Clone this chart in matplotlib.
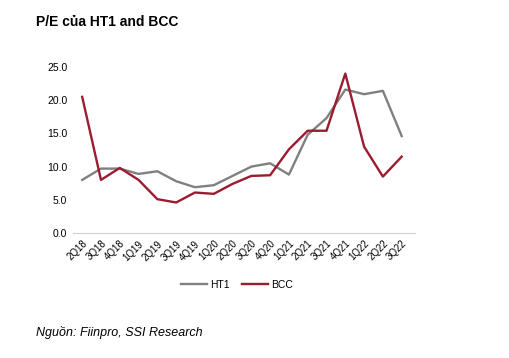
import matplotlib.pyplot as plt

quarters = ["2Q18", "3Q18", "4Q18", "1Q19", "2Q19", "3Q19", "4Q19", "1Q20", "2Q20",
            "3Q20", "4Q20", "1Q21", "2Q21", "3Q21", "4Q21", "1Q22", "2Q22", "3Q22"]
ht1 = [8.0, 9.7, 9.7, 8.9, 9.3, 7.8, 6.9, 7.2, 8.6, 10.0, 10.5, 8.8, 14.8, 17.3, 21.6, 20.9, 21.4, 14.6]
bcc = [20.5, 8.0, 9.8, 8.0, 5.1, 4.6, 6.1, 5.9, 7.4, 8.6, 8.7, 12.6, 15.4, 15.4, 24.0, 13.0, 8.5, 11.5]

fam = ['Liberation Sans Narrow', 'Liberation Sans', 'DejaVu Sans']
plt.rcParams['font.family'] = fam

fig = plt.figure(figsize=(5.09, 3.58), dpi=100)
ax = fig.add_axes([0.143, 0.349, 0.672, 0.464])

x = range(len(quarters))
ax.plot(x, ht1, color="#808080", lw=1.7, label="HT1")
ax.plot(x, bcc, color="#9B1B30", lw=1.7, label="BCC")

ax.set_ylim(0, 25)
ax.set_yticks([0, 5, 10, 15, 20, 25])
ax.set_yticklabels([f"{v:.1f}" for v in [0, 5, 10, 15, 20, 25]], fontsize=7.5)
ax.set_xlim(-0.5, len(quarters) - 0.3)
ax.set_xticks(list(x))
ax.set_xticklabels(quarters, rotation=45, ha="right", rotation_mode="anchor", fontsize=7)
ax.tick_params(length=0, pad=4)

for s in ["top", "right", "left"]:
    ax.spines[s].set_visible(False)
ax.spines["bottom"].set_color("#d0d0d0")

fig.legend(loc="center", bbox_to_anchor=(0.465, 0.205), ncol=2, frameon=False,
           fontsize=7.5, handlelength=2.5, columnspacing=1.2, handletextpad=0.3)

fig.text(0.07, 0.938, "P/E của HT1 and BCC", fontsize=10, fontweight="bold", va="center")
fig.text(0.07, 0.07, "Nguồn: Fiinpro, SSI Research", fontsize=9, style="italic", va="center")

plt.savefig("out.png", dpi=100)
